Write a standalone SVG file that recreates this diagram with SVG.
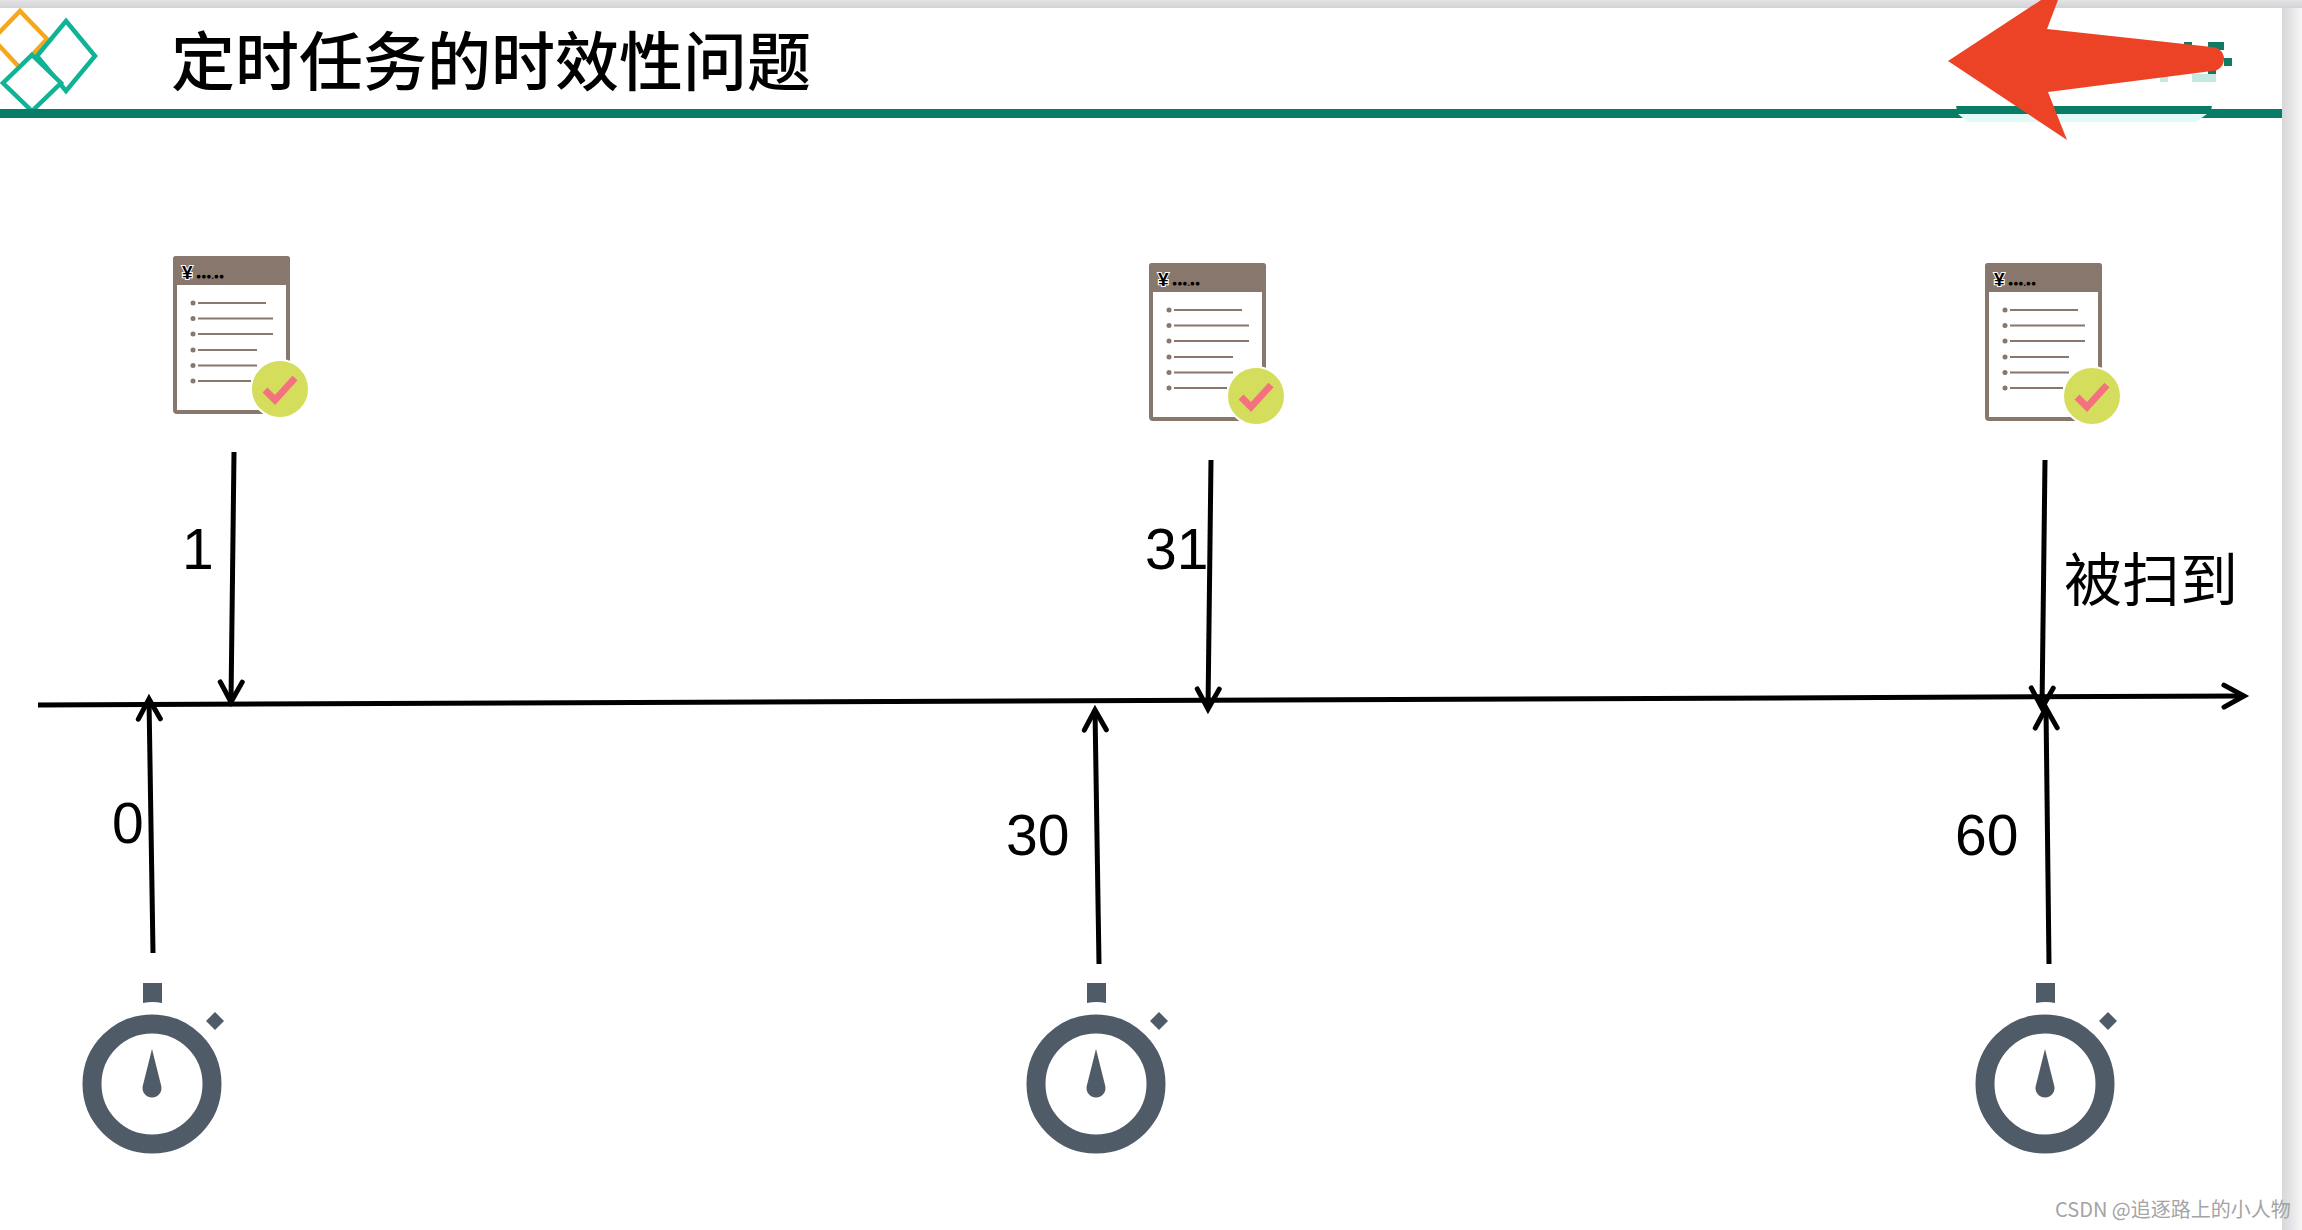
<svg xmlns="http://www.w3.org/2000/svg" width="2302" height="1230" viewBox="0 0 2302 1230">
<defs>
<linearGradient id="sh" x1="0" x2="1" y1="0" y2="0"><stop offset="0" stop-color="#d6d7d9"/><stop offset="1" stop-color="#f6f6f7"/></linearGradient>
<linearGradient id="st" x1="0" x2="0" y1="0" y2="1"><stop offset="0" stop-color="#e4e4e6"/><stop offset="1" stop-color="#d2d3d5"/></linearGradient>
<marker id="arr" viewBox="0 0 30 30" refX="24" refY="15" markerWidth="30" markerHeight="30" markerUnits="userSpaceOnUse" orient="auto"><path d="M4 4 L24 15 L4 26" fill="none" stroke="#000" stroke-width="5" stroke-linecap="round" stroke-linejoin="miter"/></marker>
<g id="doc">
<rect x="175" y="258" width="113" height="154" rx="2" fill="#fff" stroke="#87776c" stroke-width="4"/>
<path d="M173 259 a3 3 0 0 1 3 -3 h111 a3 3 0 0 1 3 3 v26 h-117 z" fill="#87776c"/>
<text x="182" y="279" font-family="'Liberation Sans',sans-serif" font-size="19" font-weight="700" fill="#000" stroke="#fff" stroke-width="2" paint-order="stroke">¥</text>
<text x="196" y="279" font-family="'Liberation Sans',sans-serif" font-size="8.500" font-weight="700" fill="#000">●●●.●●</text>
<g fill="#87776c"><circle cx="193" cy="303" r="2.500"/><circle cx="193" cy="318.500" r="2.500"/><circle cx="193" cy="334" r="2.500"/><circle cx="193" cy="350" r="2.500"/><circle cx="193" cy="365.500" r="2.500"/><circle cx="193" cy="381" r="2.500"/></g>
<g stroke="#87776c" stroke-width="1.800"><path d="M198 303H266M198 318.500H273M198 334H273M198 350H257M198 365.500H257M198 381H251"/></g>
<circle cx="280" cy="389" r="29" fill="#d5de5c" stroke="#fff" stroke-width="2"/>
<path d="M265 390 L275 400 L295 378" fill="none" stroke="#f4727f" stroke-width="7"/>
</g>
<g id="watch" fill="#505b68">
<path d="M143 983h19v20q-9.500 -2 -19 0z"/>
<path d="M215 1012l9 9-9 9-9-9z"/>
<circle cx="152" cy="1084" r="60" fill="#fff" stroke="#505b68" stroke-width="19"/>
<path d="M152 1049 L161 1085 A9.500 9.500 0 1 1 143 1085z"/>
</g>
</defs>
<style>
.t{font-family:"Liberation Sans",Arial,sans-serif;font-size:57px;fill:#000}
.c{font-family:"Noto Sans CJK SC","Liberation Sans",sans-serif}
.ln{fill:none;stroke:#000;stroke-width:5px;marker-end:url(#arr)}
</style>
<rect width="2302" height="1230" fill="#fff"/>
<rect width="2302" height="8" fill="url(#st)"/>
<rect x="2282" y="8" width="20" height="1222" fill="url(#sh)"/>
<g id="header">
<path d="M20 11 L47 39 L20 68 L-7 39Z" fill="none" stroke="#f5a81c" stroke-width="4.500"/>
<path d="M66 21 L95 56 L66 91 L37 56Z" fill="#fff" stroke="#10b396" stroke-width="4.500"/>
<path d="M32 55 L61 83 L32 111 L3 83Z" fill="#fff" stroke="#10b396" stroke-width="4.500"/>
<rect x="0" y="109" width="2282" height="9" fill="#077d66"/>
<path d="M1958 114H2207L2196 122H1968Z" fill="#e0faf8"/>
<path d="M1956 106H2212L2210 114H1958Z" fill="#077d66"/>
<text class="c" x="171" y="85" font-size="64" font-weight="500" fill="#000">定时任务的时效性问题</text>
<g fill="#117a64"><rect x="2184" y="42" width="8" height="6"/><rect x="2208" y="42" width="16" height="8"/><rect x="2224" y="58" width="8" height="8"/><rect x="2208" y="70" width="8" height="4"/></g>
<g fill="#c5e8e2"><rect x="2192" y="74" width="24" height="8"/><rect x="2160" y="74" width="8" height="8"/></g>
<path d="M2041 0 L1948 61 L2067 140 L2048 92 L2212 71 A11.500 11.500 0 0 0 2212 47 L2047 29 L2058 0Z" fill="#ec4326"/>
</g>
<g id="connectors">
<path class="ln" d="M38 705 L2244 696"/>
<path class="ln" d="M234 452 L231 702"/>
<path class="ln" d="M1211 460 L1208 709"/>
<path class="ln" d="M2045 460 L2042 708"/>
<path class="ln" d="M153 953 L149 699"/>
<path class="ln" d="M1099 964 L1095 710"/>
<path class="ln" d="M2049 964 L2046 708"/>
</g>
<g id="doc1"><use href="#doc"/></g>
<g id="doc2"><use href="#doc" x="976" y="7"/></g>
<g id="doc3"><use href="#doc" x="1812" y="7"/></g>
<g id="watch1"><use href="#watch"/></g>
<g id="watch2"><use href="#watch" x="944"/></g>
<g id="watch3"><use href="#watch" x="1893"/></g>
<g id="labels">
<text class="t" x="182" y="569">1</text>
<text class="t" x="1145" y="569">31</text>
<text class="c" x="2064" y="601" font-size="58" fill="#000">被扫到</text>
<text class="t" x="112" y="843">0</text>
<text class="t" x="1006" y="855">30</text>
<text class="t" x="1955" y="855">60</text>
<text class="c" x="2055" y="1217" font-size="20" fill="#a4a4a4">CSDN @追逐路上的小人物</text>
</g>
</svg>
